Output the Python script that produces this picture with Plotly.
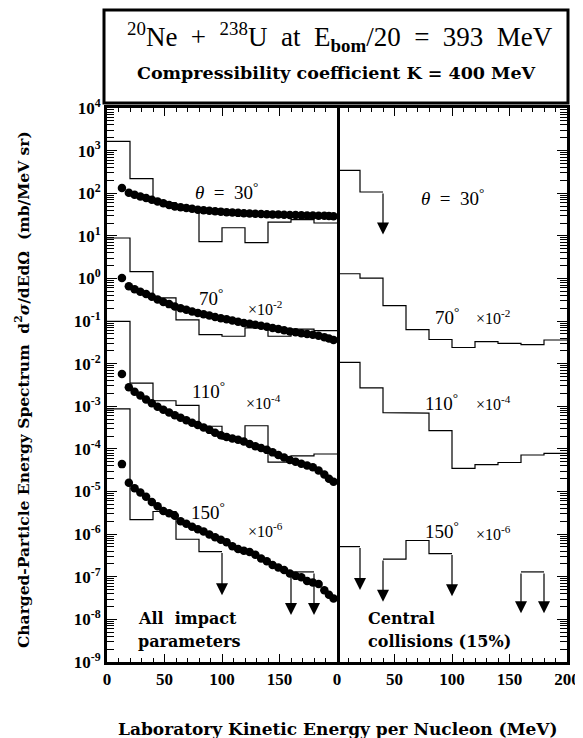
import math
import plotly.graph_objects as go

# ---------------- data ----------------
bin_edges = [0, 20, 40, 60, 80, 100, 120, 140, 160, 180, 200]

# histograms (already multiplied by the displayed scale factor)
all_30 = [1650, 219, 60, 44, 7.3, 15.5, 6.9, 21, 24, 20]
all_70 = [8.9, 1.45, 0.35, 0.107, 0.048, 0.044, 0.069, 0.044, 0.065, 0.06]
all_110 = [0.098, 3.5e-3, 1.35e-3, 1.05e-3, 3.4e-4, 1.7e-4, 3.5e-4, 4.9e-5, 6.9e-5, 7.6e-5]
all_150 = [8.7e-4, 2.2e-6, 3.4e-6, 7.6e-7, 3.9e-7, None, None, None, 1.3e-7, None]

cen_30 = [345, 107, None, None, None, None, None, None, None, None]
cen_70 = [1.29, 1.02, 0.23, 0.063, 0.037, 0.024, 0.033, 0.030, 0.028, 0.036]
cen_110 = [0.0107, 2.7e-3, 7.1e-4, 6.9e-4, 2.7e-4, 3.5e-5, 4.3e-5, 4.8e-5, 7.2e-5, 7.9e-5]
cen_150 = [5.1e-7, None, 2.6e-7, 7.1e-7, 3.5e-7, None, None, None, 1.3e-7, None]

# upper-limit arrows: (energy edge, arrow tip value)
all_150_arrows = [(100, 3.7e-8), (160, 1.26e-8), (180, 1.26e-8)]
cen_30_arrows = [(40, 10.7)]
cen_150_arrows = [(20, 4.9e-8), (40, 2.6e-8), (100, 3.5e-8), (160, 1.4e-8), (180, 1.4e-8)]

# theory (dots), all impact parameters
dot_E = [13, 19, 24, 29, 34, 39, 44, 49, 54, 59, 64, 69, 74, 79, 84, 89, 94, 99, 104,
         109, 114, 119, 124, 129, 134, 139, 144, 149, 154, 159, 164, 169, 174, 179, 184,
         189, 193, 197]
dots_30 = [132, 102, 92, 84, 77, 70, 64, 58, 53, 49, 47, 45, 43, 41, 40, 39, 38, 37, 36,
           35.3, 34.6, 34, 33.5, 33, 32.5, 32, 31.7, 31.5, 31.2, 31, 30.8, 30.5, 30.2, 30,
           29.7, 29.5, 29.2, 29]
dots_70 = [1.02, 0.66, 0.56, 0.49, 0.43, 0.37, 0.32, 0.28, 0.25, 0.22, 0.20, 0.185, 0.168,
           0.155, 0.145, 0.135, 0.125, 0.117, 0.110, 0.103, 0.096, 0.090, 0.086, 0.082,
           0.078, 0.074, 0.069, 0.065, 0.061, 0.057, 0.055, 0.052, 0.050, 0.048, 0.045,
           0.042, 0.039, 0.036]
dots_110 = [5.7e-3, 2.8e-3, 2.2e-3, 1.8e-3, 1.45e-3, 1.18e-3, 9.8e-4, 8.3e-4, 7.2e-4,
            6.2e-4, 5.4e-4, 4.7e-4, 4.1e-4, 3.65e-4, 3.2e-4, 2.8e-4, 2.4e-4, 2.1e-4,
            1.9e-4, 1.75e-4, 1.65e-4, 1.5e-4, 1.3e-4, 1.15e-4, 1.05e-4, 9.5e-5, 8.3e-5,
            7.2e-5, 6.3e-5, 5.5e-5, 5.0e-5, 4.5e-5, 4.1e-5, 3.7e-5, 3.1e-5, 2.5e-5,
            2.0e-5, 1.7e-5]
dots_150 = [4.4e-5, 1.6e-5, 1.2e-5, 9.5e-6, 7.5e-6, 5.7e-6, 4.5e-6, 3.5e-6, 3.1e-6,
            2.7e-6, 2.0e-6, 1.75e-6, 1.5e-6, 1.3e-6, 1.15e-6, 9.8e-7, 8.5e-7, 7.4e-7,
            6.5e-7, 5.2e-7, 4.5e-7, 4.1e-7, 3.8e-7, 3.3e-7, 2.7e-7, 2.3e-7, 1.9e-7,
            1.65e-7, 1.45e-7, 1.2e-7, 1.05e-7, 9.8e-8, 8.0e-8, 7.3e-8, 6.8e-8, 4.8e-8,
            3.8e-8, 3.1e-8]

y_exponents = list(range(-9, 5))
x_ticks_left = [0, 50, 100, 150]
x_ticks_right = [0, 50, 100, 150, 200]

# ---------------- helpers ----------------
def step_paths(vals):
    """Return list of (xs, ys) step paths for contiguous defined bins."""
    paths, xs, ys = [], [], []
    for i, v in enumerate(vals):
        if v is None:
            if xs:
                paths.append((xs, ys)); xs, ys = [], []
            continue
        xs += [bin_edges[i], bin_edges[i + 1]]
        ys += [v, v]
    if xs:
        paths.append((xs, ys))
    return paths

def level_at(vals, edge):
    i = bin_edges.index(edge)
    if i - 1 >= 0 and vals[i - 1] is not None:
        return vals[i - 1]
    return vals[i]

fig = go.Figure()
annots = []

def add_hist(vals, xa, ya):
    for xs, ys in step_paths(vals):
        fig.add_trace(go.Scatter(x=xs, y=ys, mode="lines", xaxis=xa, yaxis=ya,
                                 line=dict(color="black", width=1.2), showlegend=False,
                                 hoverinfo="skip"))

def add_arrows(vals, arrows, xa, ya):
    for e, tip in arrows:
        annots.append(dict(x=e, y=math.log10(tip), ax=e, ay=math.log10(level_at(vals, e)),
                           xref=xa, yref=ya, axref=xa, ayref=ya, text="", showarrow=True,
                           arrowhead=2, arrowsize=2, arrowwidth=1.2, arrowcolor="black",
                           standoff=0))

for v in (all_30, all_70, all_110, all_150):
    add_hist(v, "x", "y")
for v in (cen_30, cen_70, cen_110, cen_150):
    add_hist(v, "x2", "y2")
add_arrows(all_150, all_150_arrows, "x", "y")
add_arrows(cen_30, cen_30_arrows, "x2", "y2")
add_arrows(cen_150, cen_150_arrows, "x2", "y2")

for d in (dots_30, dots_70, dots_110, dots_150):
    fig.add_trace(go.Scatter(x=dot_E, y=d, mode="markers", xaxis="x", yaxis="y",
                             marker=dict(color="black", size=8.5), showlegend=False,
                             hoverinfo="skip"))

# ---------------- axes ----------------
tick_font = dict(family="Liberation Serif", size=17, color="black", weight="bold")
common_x = dict(range=[0, 200], showline=True, linewidth=3, linecolor="black",
                ticks="inside", ticklen=8, tickwidth=1.2, tickcolor="black",
                mirror="allticks", showgrid=False, zeroline=False, tickfont=tick_font,
                automargin=False,
                minor=dict(ticks="inside", ticklen=4, tickwidth=1, dtick=10,
                           tickcolor="black", showgrid=False))
fig.update_layout(
    xaxis=dict(domain=[0, 0.5], anchor="y", tickvals=x_ticks_left, **common_x),
    xaxis2=dict(domain=[0.5, 1], anchor="y2", tickvals=x_ticks_right, **common_x),
    yaxis=dict(type="log", range=[-9, 4], anchor="x", showline=True, linewidth=3,
               linecolor="black", mirror=True, ticks="inside", ticklen=10, tickwidth=1.2,
               tickcolor="black", showgrid=False, zeroline=False, automargin=False,
               tickvals=[10.0 ** k for k in y_exponents],
               ticktext=["10<sup>%d</sup>" % k for k in y_exponents],
               tickfont=tick_font,
               minor=dict(ticks="inside", ticklen=7, tickwidth=1, tickcolor="black",
                          dtick="D1", showgrid=False)),
    yaxis2=dict(type="log", range=[-9, 4], anchor="x2", side="right", showline=True,
                linewidth=3, linecolor="black", mirror=False, ticks="inside", ticklen=10,
                tickwidth=1.2, tickcolor="black", showgrid=False, zeroline=False,
                automargin=False,
                showticklabels=False, tickvals=[10.0 ** k for k in y_exponents],
                minor=dict(ticks="inside", ticklen=7, tickwidth=1, tickcolor="black",
                           dtick="D1", showgrid=False)),
)

# ---------------- text ----------------
serif = "Liberation Serif"
slab = "DejaVu Serif"

def lab(text, x, logy, xa, size=18, anchor="center", family=serif, weight="normal"):
    annots.append(dict(x=x, y=logy, xref=xa, yref="y" if xa == "x" else "y2", text=text,
                       showarrow=False, xanchor=anchor, yanchor="middle",
                       font=dict(family=family, size=size, color="black", weight=weight)))

deg = "<sup>°</sup>"
lab("<i>θ</i>  =  30" + deg, 104, 2.05, "x", size=19)
lab("70" + deg, 90, -0.43, "x", size=19)
lab("×10<sup>-2</sup>", 137, -0.69, "x", size=16)
lab("110" + deg, 88, -2.61, "x", size=19)
lab("×10<sup>-4</sup>", 136, -2.89, "x", size=16)
lab("150" + deg, 88, -5.45, "x", size=19)
lab("×10<sup>-6</sup>", 138, -5.9, "x", size=16)
lab("All  impact", 25, -7.97, "x", size=16, anchor="left", family=slab, weight="bold")
lab("parameters", 25, -8.53, "x", size=16, anchor="left", family=slab, weight="bold")

lab("<i>θ</i>  =  30" + deg, 100, 1.92, "x2", size=19)
lab("70" + deg, 96, -0.87, "x2", size=19)
lab("×10<sup>-2</sup>", 136, -0.9, "x2", size=16)
lab("110" + deg, 91, -2.89, "x2", size=19)
lab("×10<sup>-4</sup>", 136, -2.93, "x2", size=16)
lab("150" + deg, 91, -5.9, "x2", size=19)
lab("×10<sup>-6</sup>", 136, -5.97, "x2", size=16)
lab("Central", 25, -7.97, "x2", size=16, anchor="left", family=slab, weight="bold")
lab("collisions (15%)", 25, -8.53, "x2", size=16, anchor="left", family=slab, weight="bold")

# page layout (page pixels); the page body adds an 8 px offset
OFF = 8
FIG_W, FIG_H = 583 - OFF, 738 - OFF
PLOT_L, PLOT_R, PLOT_T, PLOT_B = 107, 567, 108, 662
H = float(PLOT_B - PLOT_T)
W = float(PLOT_R - PLOT_L)
def py(px):  # page pixel y -> paper y
    return (PLOT_B - px) / H
def pxp(px):
    return (px - PLOT_L) / W

annots.append(dict(x=pxp(340), y=py(37), xref="paper", yref="paper", showarrow=False,
                   text="<sup>20</sup>Ne  +  <sup>238</sup>U  at  E<sub><b>bom</b></sub>/20  =  393  MeV",
                   font=dict(family=serif, size=27, color="black"),
                   xanchor="center", yanchor="middle"))
annots.append(dict(x=pxp(336), y=py(73), xref="paper", yref="paper", showarrow=False,
                   text="Compressibility coefficient K = 400 MeV",
                   font=dict(family=slab, size=17.5, color="black", weight="bold"),
                   xanchor="center", yanchor="middle"))
annots.append(dict(x=pxp(338), y=py(729), xref="paper", yref="paper", showarrow=False,
                   text="Laboratory Kinetic Energy per Nucleon (MeV)",
                   font=dict(family=slab, size=17, color="black", weight="bold"),
                   xanchor="center", yanchor="middle"))
annots.append(dict(x=pxp(22), y=py(390), xref="paper", yref="paper", showarrow=False,
                   text="Charged-Particle Energy Spectrum  d<sup>2</sup><i>σ</i>/dEdΩ  (mb/MeV sr)",
                   textangle=-90,
                   font=dict(family=slab, size=15.5, color="black", weight="bold"),
                   xanchor="center", yanchor="middle"))

shapes = [dict(type="rect", xref="paper", yref="paper", x0=pxp(104), x1=pxp(568),
               y0=py(103), y1=py(10), line=dict(color="black", width=3))]

fig.update_layout(width=FIG_W, height=FIG_H,
                  margin=dict(l=PLOT_L - OFF, r=FIG_W - (PLOT_R - OFF), t=PLOT_T - OFF,
                              b=FIG_H - (PLOT_B - OFF), autoexpand=False),
                  paper_bgcolor="white", plot_bgcolor="white", annotations=annots,
                  shapes=shapes, showlegend=False)

fig.write_html("out.html")
